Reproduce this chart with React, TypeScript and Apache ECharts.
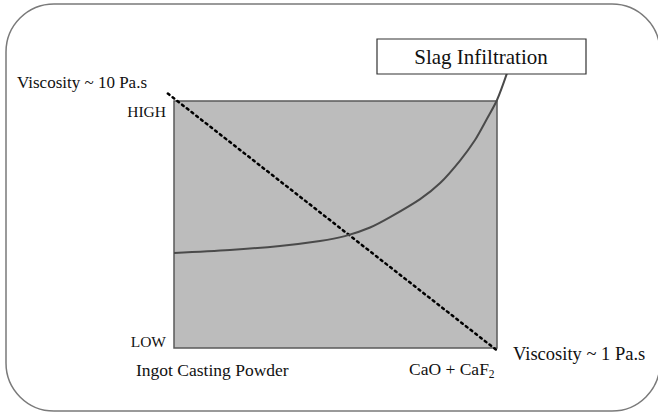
import React, { useEffect, useRef } from "react";
import * as echarts from "echarts";

const curveX = [0, 0.173, 0.328, 0.452, 0.529, 0.607, 0.669, 0.762, 0.824, 0.885, 0.932, 0.969, 1.0, 1.031];
const curveY = [0.385, 0.397, 0.413, 0.433, 0.453, 0.488, 0.53, 0.603, 0.668, 0.758, 0.842, 0.928, 1.004, 1.113];
const diagX = [-0.019, 1.006];
const diagY = [1.03, -0.016];
const yLabels = ["LOW", "HIGH"];
const xLabels = ["Ingot Casting Powder", "CaO + CaF"];
const viscLabels = ["Viscosity ~ 10 Pa.s", "Viscosity ~ 1 Pa.s"];
const boxLabel = "Slag Infiltration";

const FAM = "Liberation Serif, serif";

export default function App() {
  const ref = useRef<HTMLDivElement>(null);
  useEffect(() => {
    if (!ref.current) return;
    const chart = echarts.init(ref.current, null, { renderer: "svg" });
    const txt = (text: string, x: number, y: number, size: number, align: string = "left") => ({
      type: "text",
      x,
      y,
      style: { text, fontSize: size, fontFamily: FAM, fill: "#111", align, verticalAlign: "middle" },
      z: 10,
    });
    const xMin = -0.03;
    const xMax = 1.04;
    const yMax = 1.12;
    const sx = 323;
    const sy = 247;
    chart.setOption({
      animation: false,
      backgroundColor: "#fff",
      textStyle: { fontFamily: FAM },
      grid: {
        left: 174 + xMin * sx,
        right: 658 - (174 + xMax * sx),
        top: 348 - yMax * sy,
        bottom: 64,
        show: false,
      },
      xAxis: { type: "value", min: xMin, max: xMax, show: false },
      yAxis: { type: "value", min: 0, max: yMax, show: false },
      series: [
        {
          type: "line",
          data: [],
          z: 1,
          markArea: {
            silent: true,
            itemStyle: { color: "#bcbcbc", borderColor: "#5a5a5a", borderWidth: 1.5 },
            data: [[{ coord: [0, 0] }, { coord: [1, 1] }]],
          },
        },
        {
          type: "line",
          data: diagX.map((x, i) => [x, diagY[i]]),
          showSymbol: false,
          clip: false,
          lineStyle: { color: "#000", width: 2.5, type: [2, 4], cap: "round" },
          z: 3,
        },
        {
          type: "line",
          data: curveX.map((x, i) => [x, curveY[i]]),
          showSymbol: false,
          smooth: 0.3,
          clip: false,
          lineStyle: { color: "#4a4a4a", width: 2 },
          z: 4,
        },
      ],
      graphic: [
        {
          type: "rect",
          shape: { x: 6, y: 4, width: 654, height: 407, r: 48 },
          style: { fill: "none", stroke: "#7a7a7a", lineWidth: 1.5 },
          z: 1,
        },
        {
          type: "rect",
          shape: { x: 377, y: 39, width: 209, height: 35 },
          style: { fill: "#fff", stroke: "#333", lineWidth: 1.2 },
          z: 9,
        },
        txt(boxLabel, 481, 57, 21, "center"),
        txt(viscLabels[0], 17, 82, 17),
        txt(viscLabels[1], 513, 354, 18.5),
        txt(yLabels[1], 166, 111, 15.5, "right"),
        txt(yLabels[0], 166, 341, 15.5, "right"),
        txt(xLabels[0], 136, 370, 17.5),
        {
          type: "text",
          x: 409,
          y: 369,
          z: 10,
          style: {
            text: "{a|" + xLabels[1] + "}{b|2}",
            verticalAlign: "middle",
            rich: {
              a: { fontSize: 17.5, fontFamily: FAM, fill: "#111" },
              b: { fontSize: 11.5, fontFamily: FAM, fill: "#111", padding: [10, 0, 0, 0] },
            },
          },
        },
      ],
    });
    return () => chart.dispose();
  }, []);
  return <div ref={ref} style={{ width: 658, height: 412, position: "absolute", left: 0, top: 0 }} />;
}
